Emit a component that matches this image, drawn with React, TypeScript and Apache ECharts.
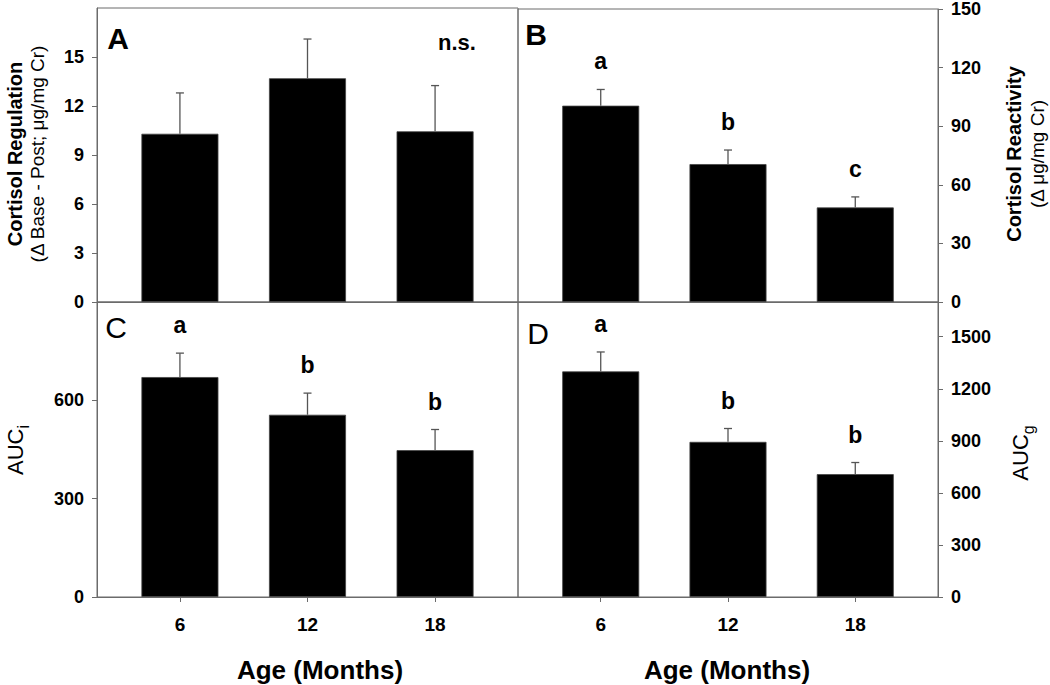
import React, { useEffect, useRef } from "react";
import * as echarts from "echarts";

const categories = ["6", "12", "18"];
const xPositions = [0, 1, 2];

const regulation = [10.3, 13.7, 10.45];
const regulationErr = [2.5, 2.4, 2.8];
const regulationLetters = ["", "", ""];

const reactivity = [100.5, 70.6, 48.4];
const reactivityErr = [8.3, 7.2, 5.4];
const reactivityLetters = ["a", "b", "c"];

const aucI = [671, 556, 448];
const aucIErr = [73, 66, 63];
const aucILetters = ["a", "b", "b"];

const aucG = [1300, 894, 708];
const aucGErr = [112, 77, 67];
const aucGLetters = ["a", "b", "b"];

const panelMax = [18, 150, 900, 1700];
const panelInterval = [3, 30, 300, 300];

const FONT = "Liberation Sans, Arial, sans-serif";
const FRAME = "#6b6b6b";

export default function App() {
  const ref = useRef<HTMLDivElement>(null);

  useEffect(() => {
    if (!ref.current) return;
    const chart = echarts.init(ref.current, null, { renderer: "svg" });

    const panels = [
      { vals: regulation, errs: regulationErr, letters: regulationLetters },
      { vals: reactivity, errs: reactivityErr, letters: reactivityLetters },
      { vals: aucI, errs: aucIErr, letters: aucILetters },
      { vals: aucG, errs: aucGErr, letters: aucGLetters },
    ];

    const grids = [
      { left: 97, top: 8, width: 421, height: 294 },
      { left: 518, top: 8, width: 420, height: 294 },
      { left: 97, top: 302, width: 421, height: 295 },
      { left: 518, top: 302, width: 420, height: 295 },
    ].map((g) => ({
      ...g,
      show: true,
      borderColor: FRAME,
      borderWidth: 1,
      backgroundColor: "transparent",
    }));

    const xAxes = [0, 1, 2, 3].map((i) => {
      const bottom = i >= 2;
      return {
        type: "value",
        gridIndex: i,
        position: "bottom",
        min: -0.65,
        max: 2.65,
        splitLine: { show: false },
        axisLine: { show: true, onZero: false, lineStyle: { color: FRAME } },
        axisTick: {
          show: bottom,
          customValues: xPositions,
          length: 5,
          lineStyle: { color: FRAME },
        },
        axisLabel: {
          show: bottom,
          customValues: xPositions,
          formatter: (v: number) => categories[Math.round(v)] ?? "",
          margin: 18,
          fontSize: 19,
          fontWeight: "bold",
          color: "#000",
          fontFamily: FONT,
        },
      };
    });

    const yAxes = [0, 1, 2, 3].map((i) => ({
      type: "value",
      gridIndex: i,
      position: i % 2 === 0 ? "left" : "right",
      min: 0,
      max: panelMax[i],
      interval: panelInterval[i],
      splitLine: { show: false },
      axisLine: { show: true, onZero: false, lineStyle: { color: FRAME } },
      axisTick: { show: true, length: 5, lineStyle: { color: FRAME } },
      axisLabel: {
        showMaxLabel: i === 1,
        margin: 13,
        fontSize: 18,
        fontWeight: "bold",
        color: "#000",
        fontFamily: FONT,
        formatter: (v: number) => String(v),
      },
    }));

    const series: any[] = [];
    panels.forEach((p, i) => {
      series.push({
        type: "bar",
        xAxisIndex: i,
        yAxisIndex: i,
        barWidth: 77,
        data: xPositions.map((x, k) => [x, p.vals[k]]),
        itemStyle: { color: "#000", borderColor: "#444", borderWidth: 0.8 },
        z: 2,
      });
      series.push({
        type: "custom",
        xAxisIndex: i,
        yAxisIndex: i,
        z: 3,
        data: xPositions.map((x, k) => [x, p.vals[k], p.errs[k]]),
        renderItem: (params: any, api: any) => {
          const x = api.value(0);
          const v = api.value(1);
          const e = api.value(2);
          const p0 = api.coord([x, v]);
          const p1 = api.coord([x, v + e]);
          const children: any[] = [
            {
              type: "line",
              shape: { x1: p0[0], y1: p0[1], x2: p1[0], y2: p1[1] },
              style: { stroke: "#555", lineWidth: 1.3 },
            },
            {
              type: "line",
              shape: { x1: p1[0] - 4, y1: p1[1], x2: p1[0] + 4, y2: p1[1] },
              style: { stroke: "#555", lineWidth: 1.3 },
            },
          ];
          const letter = p.letters[params.dataIndex];
          if (letter) {
            children.push({
              type: "text",
              x: p1[0],
              y: p1[1] - 28,
              style: {
                text: letter,
                fontSize: 23,
                fontWeight: "bold",
                fontFamily: FONT,
                fill: "#000",
                align: "center",
                verticalAlign: "middle",
              },
            });
          }
          return { type: "group", children };
        },
      });
    });

    const txt = (
      x: number,
      y: number,
      text: string,
      size: number,
      weight: string,
      rotate = false
    ) => ({
      type: "text",
      x,
      y,
      rotation: rotate ? Math.PI / 2 : 0,
      style: {
        text,
        fontSize: size,
        fontWeight: weight,
        fontFamily: FONT,
        fill: "#000",
        align: "center",
        verticalAlign: "middle",
      },
    });

    const aucText = (x: number, y: number, sub: string) => ({
      type: "text",
      x,
      y,
      rotation: Math.PI / 2,
      style: {
        text: "{m|AUC}{s|" + sub + "}",
        align: "center",
        verticalAlign: "middle",
        rich: {
          m: { fontSize: 22, fontFamily: FONT, fill: "#000", verticalAlign: "bottom" },
          s: {
            fontSize: 16,
            fontFamily: FONT,
            fill: "#000",
            padding: [0, 0, -5, 0],
            verticalAlign: "bottom",
          },
        },
      },
    });

    const graphic: any[] = [
      txt(118, 38, "A", 30, "bold"),
      txt(536, 34, "B", 30, "bold"),
      txt(116, 327, "C", 30, "normal"),
      txt(538, 333, "D", 30, "normal"),
      txt(457, 42, "n.s.", 22, "bold"),
      txt(15, 154, "Cortisol Regulation", 20, "bold", true),
      txt(37, 154, "(Δ Base - Post; μg/mg Cr)", 19, "normal", true),
      txt(1014, 154, "Cortisol Reactivity", 20, "bold", true),
      txt(1037, 154, "(Δ μg/mg Cr)", 19, "normal", true),
      aucText(15, 450, "i"),
      aucText(1020, 453, "g"),
      txt(320, 670, "Age (Months)", 26, "bold"),
      txt(727, 670, "Age (Months)", 26, "bold"),
    ];

    chart.setOption({
      animation: false,
      backgroundColor: "#fff",
      grid: grids,
      xAxis: xAxes,
      yAxis: yAxes,
      series,
      graphic,
    });

    return () => chart.dispose();
  }, []);

  return (
    <div
      ref={ref}
      style={{ position: "absolute", left: 0, top: 0, width: 1050, height: 685 }}
    />
  );
}
